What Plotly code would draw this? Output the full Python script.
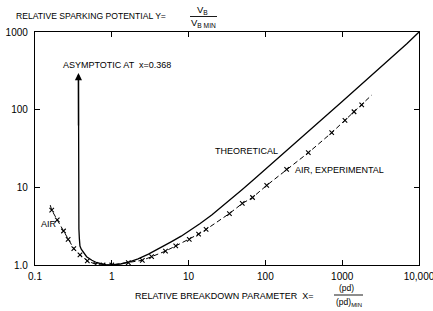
import math
import plotly.graph_objects as go

# ---------------- data ----------------
x_tick_vals = [0.1, 1, 10, 100, 1000, 10000]
x_tick_text = ["0.1", "1", "10", "100", "1000", "10,000"]
y_tick_vals = [1, 10, 100, 1000]
y_tick_text = ["1.0", "10", "100", "1000"]

theory_x = [0.368, 0.368, 0.370, 0.373, 0.378, 0.385, 0.40, 0.42, 0.47, 0.55, 0.64, 0.75,
            0.86, 1.0, 1.3, 1.7, 2.2, 3.0, 4, 5, 6, 8, 10, 14, 20, 30, 50, 70, 100, 150,
            200, 300, 500, 700, 1000, 1500, 2000, 3000, 5000, 7000, 10000]
theory_y = [280, 10, 4.0, 2.9, 2.2, 1.75, 1.6, 1.48, 1.28, 1.15, 1.07, 1.03,
            1.0, 1.0, 1.03, 1.1, 1.2, 1.38, 1.6, 1.8, 2.0, 2.35, 2.7, 3.4, 4.4, 6.1,
            9.4, 12.5, 17, 24, 31, 44, 69, 93, 127, 181, 232, 330, 525, 710, 1000]

air_x = [0.165, 0.195, 0.235, 0.27, 0.32, 0.385, 0.48, 0.62, 0.77, 1.0, 1.64, 2.5,
         3.3, 5.0, 6.8, 10.2, 13.5, 16.9, 34, 50, 68, 104, 189, 362, 730, 1087,
         1425, 1795]
air_y = [5.1, 3.8, 2.74, 2.14, 1.62, 1.35, 1.13, 1.02, 1.0, 1.0, 1.07, 1.15,
         1.28, 1.51, 1.76, 2.14, 2.5, 2.87, 4.6, 6.2, 7.4, 10.6, 17, 27.9, 50.5, 73,
         94, 115]
air_line_start = (0.158, 5.9)
air_line_end = (2420, 154)

asymptote_x = 0.368
arrow_tip_y = 296

# ---------------- layout constants ----------------
W, H = 433, 311
PL, PR, PT, PB = 35, 419, 32, 265
FONT = "Liberation Sans, Arial, sans-serif"


def pxp(px):
    return (px - PL) / (PR - PL)


def pyp(py):
    return (PB - py) / (PB - PT)


fig = go.Figure()

fig.add_trace(go.Scatter(
    x=theory_x, y=theory_y, mode="lines",
    line=dict(color="black", width=1.3), hoverinfo="skip", showlegend=False))

fig.add_trace(go.Scatter(
    x=[air_line_start[0]] + air_x + [air_line_end[0]],
    y=[air_line_start[1]] + air_y + [air_line_end[1]],
    mode="lines", line=dict(color="black", width=1, dash="5px,3px"),
    hoverinfo="skip", showlegend=False))

fig.add_trace(go.Scatter(
    x=air_x, y=air_y, mode="markers",
    marker=dict(symbol="x-thin", size=4.5, line=dict(color="black", width=1.1)),
    hoverinfo="skip", showlegend=False))

axis_common = dict(
    type="log", showgrid=False, zeroline=False, showline=True, automargin=False,
    linecolor="black", linewidth=1.3, mirror="allticks",
    ticks="inside", ticklen=5, tickwidth=1.1, tickcolor="black",
    tickfont=dict(family=FONT, size=10, color="black"),
    ticklabeloverflow="allow",
)

fig.update_layout(
    width=W, height=H,
    margin=dict(l=PL, r=W - PR, t=PT, b=H - PB, pad=0),
    paper_bgcolor="white", plot_bgcolor="white",
    xaxis=dict(range=[-1, 4], tickvals=x_tick_vals, ticktext=x_tick_text,
               ticklabelstandoff=2, **axis_common),
    yaxis=dict(range=[0, 3], tickvals=y_tick_vals, ticktext=y_tick_text,
               ticklabelstandoff=4, **axis_common),
    showlegend=False,
)

ann = []
# arrow at asymptote
ann.append(dict(x=math.log10(asymptote_x), y=math.log10(arrow_tip_y),
                ax=math.log10(asymptote_x), ay=math.log10(60),
                xref="x", yref="y", axref="x", ayref="y", text="",
                showarrow=True, arrowhead=2, arrowsize=1.1, arrowwidth=1.3,
                arrowcolor="black"))
small = dict(family=FONT, size=9, color="black")
ann.append(dict(x=pxp(61), y=pyp(65), xref="paper", yref="paper",
                text="ASYMPTOTIC AT  x=0.368", showarrow=False,
                xanchor="left", yanchor="middle", font=small))
ann.append(dict(x=pxp(213), y=pyp(151), xref="paper", yref="paper",
                text="THEORETICAL", showarrow=False,
                xanchor="left", yanchor="middle", font=small))
ann.append(dict(x=pxp(293), y=pyp(170), xref="paper", yref="paper",
                text="AIR, EXPERIMENTAL", showarrow=False,
                xanchor="left", yanchor="middle", font=small))
ann.append(dict(x=pxp(39), y=pyp(224), xref="paper", yref="paper",
                text="AIR", showarrow=False,
                xanchor="left", yanchor="middle", font=small))

# y axis title
ann.append(dict(x=pxp(14), y=pyp(16), xref="paper", yref="paper",
                text="RELATIVE SPARKING POTENTIAL Y=", showarrow=False,
                xanchor="left", yanchor="middle",
                font=dict(family=FONT, size=8.6, color="black")))
ann.append(dict(x=pxp(202), y=pyp(10), xref="paper", yref="paper",
                text="V<sub>B</sub>", showarrow=False,
                xanchor="center", yanchor="middle",
                font=dict(family=FONT, size=9.5, color="black")))
ann.append(dict(x=pxp(203), y=pyp(23), xref="paper", yref="paper",
                text="V<sub>B MIN</sub>", showarrow=False,
                xanchor="center", yanchor="middle",
                font=dict(family=FONT, size=9.5, color="black")))

# x axis title
ann.append(dict(x=pxp(133), y=pyp(296), xref="paper", yref="paper",
                text="RELATIVE BREAKDOWN PARAMETER  X=", showarrow=False,
                xanchor="left", yanchor="middle",
                font=dict(family=FONT, size=9, color="black")))
ann.append(dict(x=pxp(346), y=pyp(288), xref="paper", yref="paper",
                text="(pd)", showarrow=False,
                xanchor="center", yanchor="middle",
                font=dict(family=FONT, size=8.5, color="black")))
ann.append(dict(x=pxp(349), y=pyp(302), xref="paper", yref="paper",
                text="(pd)<sub>MIN</sub>", showarrow=False,
                xanchor="center", yanchor="middle",
                font=dict(family=FONT, size=8.5, color="black")))

fig.update_layout(annotations=ann)

shapes = [
    dict(type="line", xref="paper", yref="paper",
         x0=pxp(190), x1=pxp(217), y0=pyp(16.5), y1=pyp(16.5),
         line=dict(color="black", width=0.9)),
    dict(type="line", xref="paper", yref="paper",
         x0=pxp(334), x1=pxp(363), y0=pyp(295), y1=pyp(295),
         line=dict(color="black", width=0.9)),
]
fig.update_layout(shapes=shapes)

fig.write_html(
    "out.html",
    config={"displayModeBar": False},
    post_script="document.body.style.margin='0px';document.body.style.padding='0px';",
)
